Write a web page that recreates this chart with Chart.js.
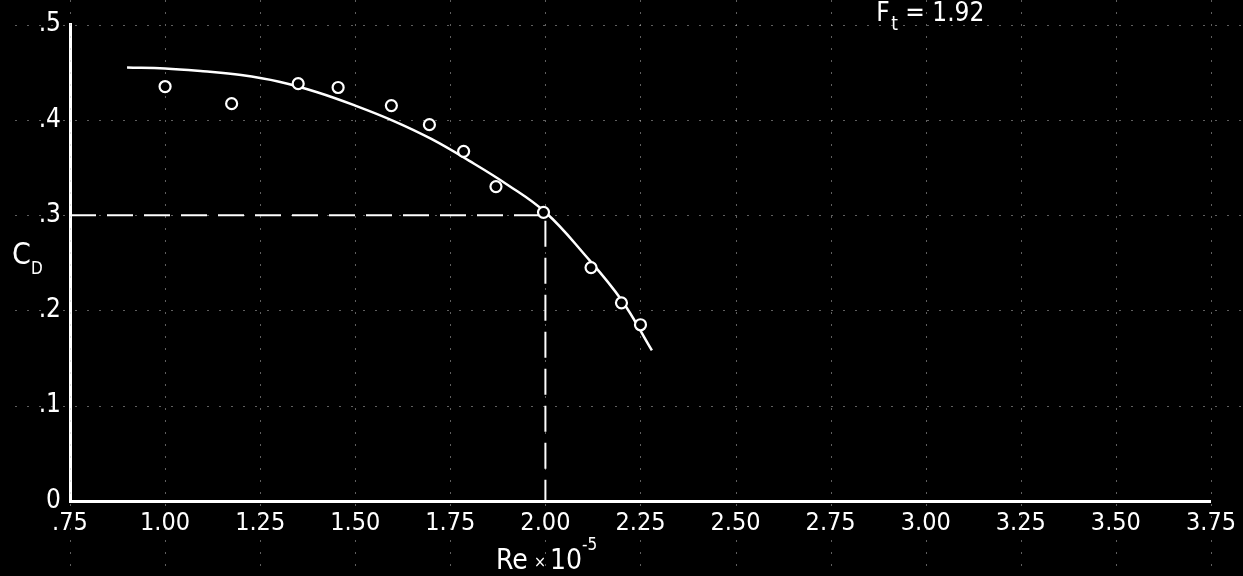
<!DOCTYPE html>
<html>
<head>
<meta charset="utf-8">
<script src="https://cdn.jsdelivr.net/npm/chart.js@4.4.1/dist/chart.umd.min.js"></script>
<style>
  html, body { margin: 0; padding: 0; background: #000; }
  #wrap { width: 1243px; height: 576px; position: relative; }
</style>
</head>
<body>
<div id="wrap"><canvas id="chart" width="1243" height="576"></canvas></div>
<script>
// Reynolds number axis (Re x 10^-5)
const reTicks = [0.75, 1.00, 1.25, 1.50, 1.75, 2.00, 2.25, 2.50, 2.75, 3.00, 3.25, 3.50, 3.75];
const reTickLabels = ['.75', '1.00', '1.25', '1.50', '1.75', '2.00', '2.25', '2.50', '2.75', '3.00', '3.25', '3.50', '3.75'];

// Drag coefficient axis
const cdTicks = [0, 0.1, 0.2, 0.3, 0.4, 0.5];
const cdTickLabels = ['0', '.1', '.2', '.3', '.4', '.5'];

// Measured points
const measuredRe = [1.00, 1.175, 1.35, 1.455, 1.595, 1.695, 1.785, 1.87, 1.995, 2.12, 2.20, 2.25];
const measuredCd = [0.435, 0.417, 0.438, 0.434, 0.415, 0.395, 0.367, 0.330, 0.303, 0.245, 0.208, 0.185];

// Faired curve through the measurements
const fairedRe = [0.90, 1.00, 1.10, 1.20, 1.30, 1.40, 1.50, 1.60, 1.70, 1.80, 1.90, 2.00, 2.10, 2.20, 2.28];
const fairedCd = [0.455, 0.454, 0.451, 0.447, 0.440, 0.429, 0.415, 0.399, 0.380, 0.357, 0.332, 0.303, 0.260, 0.211, 0.158];

// Design point read-off
const designRe = 2.00;
const designCd = 0.30;
const forceLabel = '= 1.92';

const HAND = '"Liberation Sans Narrow", "DejaVu Sans Condensed", "Liberation Sans", sans-serif';
const INK = '#ffffff';

// Dotted graph-paper rules running across the whole sheet
const graphPaper = {
  id: 'graphPaper',
  beforeDatasetsDraw(chart) {
    const ctx = chart.ctx;
    const xs = chart.scales.x, ys = chart.scales.y;
    ctx.save();
    ctx.strokeStyle = 'rgba(190,190,190,0.5)';
    ctx.lineWidth = 1;
    ctx.setLineDash([2, 10]);
    reTicks.forEach(v => {
      const px = Math.round(xs.getPixelForValue(v)) + 0.5;
      ctx.beginPath(); ctx.moveTo(px, 0); ctx.lineTo(px, chart.height); ctx.stroke();
    });
    cdTicks.forEach(v => {
      if (v === 0) return;
      const py = Math.round(ys.getPixelForValue(v)) + 0.5;
      ctx.beginPath(); ctx.moveTo(15, py); ctx.lineTo(chart.width, py); ctx.stroke();
    });
    ctx.restore();
  }
};

// Axis titles and the force note, lettered by hand
const lettering = {
  id: 'lettering',
  afterDraw(chart) {
    const ctx = chart.ctx;
    const xs = chart.scales.x, ys = chart.scales.y;
    ctx.save();
    ctx.fillStyle = INK;
    ctx.textBaseline = 'alphabetic';
    ctx.textAlign = 'left';

    // C_D
    const cdY = ys.getPixelForValue(0.25);
    ctx.font = '30px ' + HAND;
    ctx.fillText('C', 12, cdY + 1);
    ctx.font = '17px ' + HAND;
    ctx.fillText('D', 31, cdY + 11);

    // Re x 10^-5
    const reX = xs.getPixelForValue(1.87);
    ctx.font = '28px ' + HAND;
    ctx.fillText('Re', reX, 569);
    ctx.font = '16px ' + HAND;
    ctx.fillText('\u00d7', reX + 38, 567);
    ctx.font = '28px ' + HAND;
    ctx.fillText('10', reX + 54, 569);
    ctx.font = '17px ' + HAND;
    ctx.fillText('-5', reX + 86, 550);

    // F_t = 1.92
    const fX = xs.getPixelForValue(2.87);
    ctx.font = '26px ' + HAND;
    ctx.fillText('F', fX, 21);
    ctx.font = '19px ' + HAND;
    ctx.fillText('t', fX + 15, 30);
    ctx.font = '26px ' + HAND;
    ctx.fillText(forceLabel, fX + 29, 21);
    ctx.restore();
  }
};

const tickLookup = (values, labels) => (value) => {
  const i = values.findIndex(v => Math.abs(v - value) < 1e-6);
  return i >= 0 ? labels[i] : '';
};

new Chart(document.getElementById('chart'), {
  type: 'scatter',
  data: {
    datasets: [
      {
        label: 'faired',
        data: fairedRe.map((x, i) => ({ x, y: fairedCd[i] })),
        showLine: true,
        borderColor: INK,
        borderWidth: 2.5,
        pointRadius: 0,
        tension: 0.4,
        order: 2
      },
      {
        label: 'design',
        data: [
          { x: 0.75, y: designCd },
          { x: designRe, y: designCd },
          { x: designRe, y: 0 }
        ],
        showLine: true,
        borderColor: INK,
        borderWidth: 2,
        borderDash: [26, 11],
        pointRadius: 0,
        tension: 0,
        order: 3
      },
      {
        label: 'measured',
        data: measuredRe.map((x, i) => ({ x, y: measuredCd[i] })),
        pointStyle: 'circle',
        pointRadius: 5.5,
        pointBackgroundColor: '#000',
        pointBorderColor: INK,
        pointBorderWidth: 2.2,
        order: 1
      }
    ]
  },
  options: {
    responsive: false,
    animation: false,
    devicePixelRatio: 1,
    layout: { padding: { top: 21, right: 28, left: 0, bottom: 0 } },
    plugins: {
      legend: { display: false },
      tooltip: { enabled: false }
    },
    scales: {
      x: {
        type: 'linear',
        min: 0.75,
        max: 3.75,
        afterBuildTicks: s => { s.ticks = reTicks.map(v => ({ value: v })); },
        afterFit: s => { s.height = 75; },
        grid: { display: false, drawTicks: false },
        border: { display: true, color: INK, width: 3 },
        ticks: {
          color: INK,
          padding: 7,
          autoSkip: false,
          maxRotation: 0,
          font: { family: HAND, size: 25 },
          callback: tickLookup(reTicks, reTickLabels)
        }
      },
      y: {
        type: 'linear',
        min: 0,
        max: 0.5,
        afterBuildTicks: s => { s.ticks = cdTicks.map(v => ({ value: v })); },
        afterFit: s => { s.width = 70; },
        grid: { display: false, drawTicks: false },
        border: { display: true, color: INK, width: 3 },
        ticks: {
          color: INK,
          padding: 9,
          autoSkip: false,
          font: { family: HAND, size: 26 },
          callback: tickLookup(cdTicks, cdTickLabels)
        }
      }
    }
  },
  plugins: [graphPaper, lettering]
});
</script>
</body>
</html>
